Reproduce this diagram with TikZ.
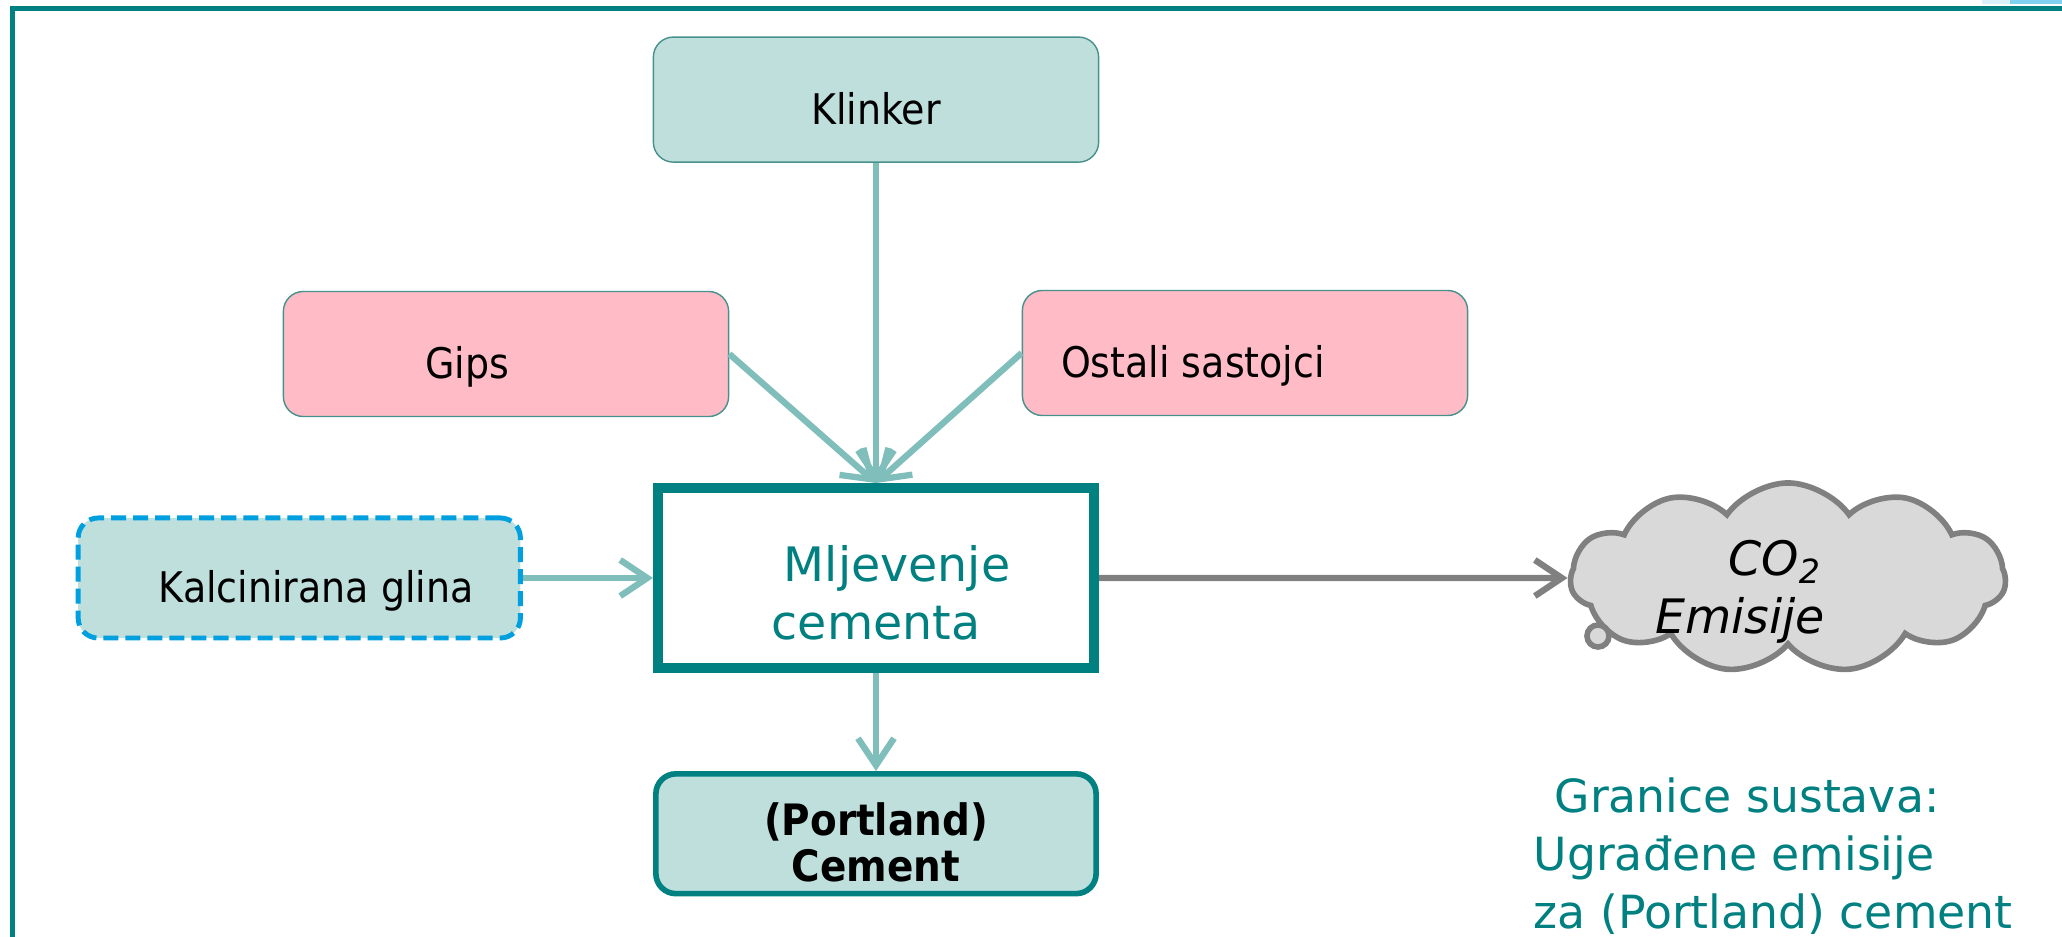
\documentclass[tikz,border=0pt]{standalone}
\usepackage{fontspec}
\setmainfont{DejaVu Sans}
\newfontfamily\labelfont{DejaVu Sans Condensed}[BoldFont={DejaVu Sans Condensed Bold}]
\usetikzlibrary{positioning, arrows.meta, shapes.symbols}

\definecolor{tealdark}{RGB}{0,128,128}
\definecolor{tealfill}{RGB}{191,223,221}
\definecolor{boxline}{RGB}{70,145,140}
\definecolor{pinkfill}{RGB}{255,188,198}
\definecolor{arrowteal}{RGB}{128,190,188}
\definecolor{claydash}{RGB}{0,160,224}
\definecolor{cloudgray}{RGB}{128,128,128}
\definecolor{cloudfill}{RGB}{217,217,217}

\begin{document}
\begin{tikzpicture}[x=0.01cm, y=-0.01cm,
  box/.style = {draw=boxline, fill=tealfill, rounded corners=0.2cm, minimum width=4.45cm, minimum height=1.25cm, font=\labelfont\fontsize{12}{14}\selectfont},
  input/.style = {box, text height=0.55cm, text depth=0.06cm},
  additive/.style = {input, fill=pinkfill},
  claybox/.style = {input, draw=claydash, line width=1.4pt, dash pattern=on 0.15cm off 0.07cm, minimum width=4.42cm, minimum height=1.2cm},
  mill/.style = {draw=tealdark, line width=2.8pt, fill=white, minimum width=4.36cm, minimum height=1.8cm, align=center, text=tealdark, font=\fontsize{13.5}{16.5}\selectfont},
  product/.style = {box, draw=tealdark, line width=1.6pt, minimum width=4.4cm, minimum height=1.19cm, align=center, font=\labelfont\bfseries\fontsize{12.3}{13}\selectfont},
  emission/.style = {cloud, cloud puffs=11, cloud puff arc=110, aspect=2.3, draw=cloudgray, fill=cloudfill, line width=1.6pt, minimum width=4.35cm, minimum height=1.9cm},
  feed/.style = {draw=arrowteal, line width=1.8pt, -{Straight Barb[length=0.27cm, width=0.36cm]}},
  emit/.style = {feed, draw=cloudgray}]
\useasboundingbox (0,0) rectangle (2062,937);

% frame
\draw[tealdark, line width=1.5pt] (12.5,937) -- (12.5,8.5) -- (2062,8.5);
\fill[claydash!50] (2010,0) rectangle (2062,4);
\fill[claydash!15] (1982,0) rectangle (2010,4);

% nodes
\node[mill] (grind) at (876,578) {\rule{0pt}{0.66cm}\hspace*{0.42cm}Mljevenje\\cementa};
\node[input] (clinker) [above=3.2cm of grind] {Klinker};
\node[additive] (gypsum) at (506,354) {\hspace*{-0.78cm}Gips};
\node[additive] (other) at (1245,353) {\hspace*{-1.04cm}Ostali sastojci};
\node[claybox] (clay) [left=1.30cm of grind] {\hspace*{0.34cm}Kalcinirana glina};
\node[product] (cement) [below=0.98cm of grind] {\rule{0pt}{0.5cm}(Portland)\\Cement};
\node[emission] (co2) at (1788,578) {};
\node[align=center, font=\itshape\fontsize{13.5}{16.5}\selectfont] (co2txt) at (1740,592) {\hspace*{0.7cm}CO\textsubscript{2}\\Emisije};
\draw[cloudgray, fill=cloudfill, line width=1.6pt] (1598,636) circle (11);
\node[anchor=north west, inner sep=0pt, align=left, text=tealdark, font=\fontsize{13}{16.5}\selectfont] (bound) at (1533,777) {\hspace*{0.21cm}Granice sustava:\\Ugrađene emisije\\za (Portland) cement};

% connectors
\draw[feed] (clinker) -- (grind);
\draw[feed] (gypsum.east) -- (grind.north);
\draw[feed] (other.west) -- (grind.north);
\draw[feed] (clay) -- (grind);
\draw[feed] (grind) -- (cement);
\draw[emit] (grind.east) -- (co2.west);
\end{tikzpicture}
\end{document}
